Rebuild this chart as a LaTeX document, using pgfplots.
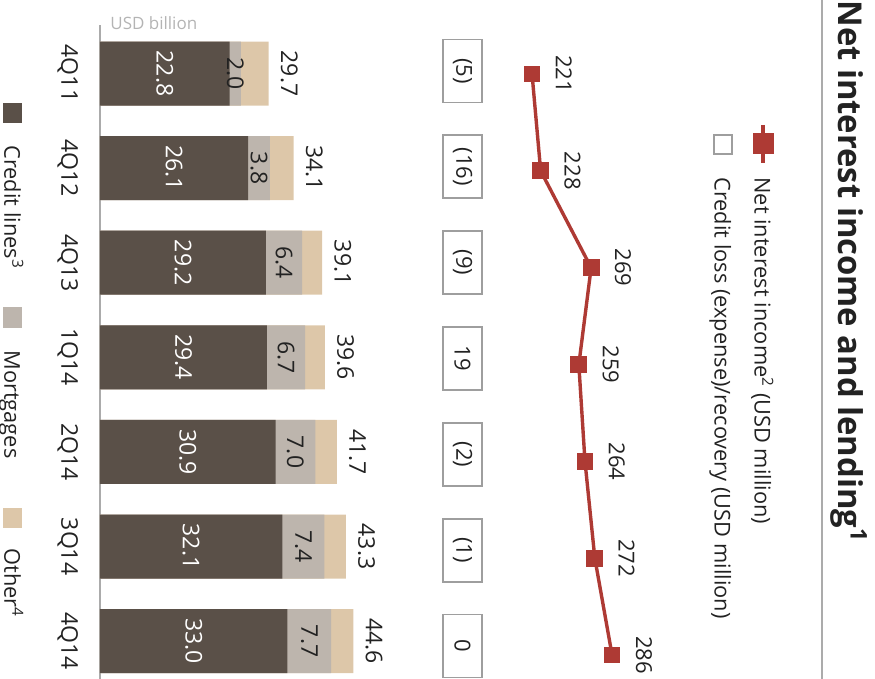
\documentclass[border=0pt]{standalone}
\usepackage{fontspec}
\setmainfont{Open Sans}
\usepackage{pgfplots}
\usepackage{pgfplotstable}
\pgfplotsset{compat=1.18}

\definecolor{ccredit}{HTML}{5A5048}
\definecolor{cmort}{HTML}{BDB5AD}
\definecolor{cother}{HTML}{DDC7A9}
\definecolor{cred}{HTML}{AE3A34}
\definecolor{cbox}{HTML}{9E9E9E}
\definecolor{ctext}{HTML}{222222}
\definecolor{cline}{HTML}{ABABAB}
\definecolor{clabel}{HTML}{B4B4B4}

\newcommand\fsz[1]{\fontsize{#1}{1.2\dimexpr#1pt\relax}\selectfont}

% quarter, zero column, credit lines, mortgages, other, total (USD bn),
% credit loss and net interest income (USD m)
\pgfplotstableread{
i z credit mort other total loss nii
0 0 22.8 2.0 4.9 29.7 (5)  221
1 0 26.1 3.8 4.2 34.1 (16) 228
2 0 29.2 6.4 3.5 39.1 (9)  269
3 0 29.4 6.7 3.5 39.6 19   259
4 0 30.9 7.0 3.8 41.7 (2)  264
5 0 32.1 7.4 3.8 43.3 (1)  272
6 0 33.0 7.7 3.9 44.6 0    286
}\data

\begin{document}
\begin{tikzpicture}

% title and rule
\node[rotate=-90, anchor=base west, inner sep=0pt, text=ctext,
      font=\bfseries\fsz{16.4}] at (419pt,339.5pt)
  {Net interest income and lending\textsuperscript{1}};
\draw[cline, line width=1pt] (411pt,0pt) -- (411pt,339.5pt);

% legend of the upper panel
\draw[cred, line width=1.7pt] (381.5pt,277pt) -- (381.5pt,258pt);
\fill[cred] (376.25pt,262.25pt) rectangle (386.75pt,272.75pt);
\node[rotate=-90, anchor=base west, inner sep=0pt, text=ctext, font=\fsz{10.9}]
  at (377.25pt,251pt) {Net interest income\textsuperscript{2} (USD million)};
\draw[cbox, line width=0.9pt, fill=white] (356.9pt,262.4pt) rectangle (366.1pt,272.1pt);
\node[rotate=-90, anchor=base west, inner sep=0pt, text=ctext, font=\fsz{10.9}]
  at (357.25pt,251pt) {Credit loss (expense)/recovery (USD million)};

% legend of the lending bars
\fill[ccredit] (1.5pt,278pt) rectangle (11pt,288pt);
\node[rotate=-90, anchor=base west, inner sep=0pt, text=ctext, font=\fsz{10.9}]
  at (2.25pt,267pt) {Credit lines\textsuperscript{3}};
\fill[cmort] (1.5pt,175.5pt) rectangle (11pt,186pt);
\node[rotate=-90, anchor=base west, inner sep=0pt, text=ctext, font=\fsz{10.9}]
  at (2.25pt,164.5pt) {Mortgages};
\fill[cother] (1.5pt,75.5pt) rectangle (11pt,85.5pt);
\node[rotate=-90, anchor=base west, inner sep=0pt, text=ctext, font=\fsz{10.9}]
  at (2.25pt,65.5pt) {Other\textsuperscript{4}};

% lending volumes
\begin{axis}[
  scale only axis, width=142pt, height=327pt,
  at={(50pt,0pt)}, anchor=south west,
  xmin=0, xmax=50, ymin=-0.5127, ymax=6.4, y dir=reverse,
  axis x line=none, axis y line*=left, xtick=\empty,
  y axis line style={cline, line width=0.75pt},
  ytick={0,...,6}, yticklabels={4Q11,4Q12,4Q13,1Q14,2Q14,3Q14,4Q14},
  major tick length=0pt,
  yticklabel style={xshift=-10.75pt, rotate=-90, anchor=north,
    inner sep=0pt, font=\fsz{11.5}, text=ctext},
  clip=false,
]
\addplot[xbar, bar width=32pt, bar shift=0pt, fill=cother, draw=none]
  table[x=total, y=i]{\data};
\addplot[xbar, bar width=32pt, bar shift=0pt, fill=cmort, draw=none]
  table[x expr=\thisrow{credit}+\thisrow{mort}, y=i]{\data};
\addplot[xbar, bar width=32pt, bar shift=0pt, fill=ccredit, draw=none]
  table[x=credit, y=i]{\data};

% segment values
\addplot[only marks, mark=none,
  point meta=explicit symbolic, nodes near coords,
  every node near coord/.append style={rotate=-90, anchor=center,
    inner sep=0pt, text=white, font=\fsz{11.5}}]
  table[x expr=\thisrow{credit}/2, y=i, meta=credit]{\data};
\addplot[only marks, mark=none,
  point meta=explicit symbolic, nodes near coords,
  every node near coord/.append style={rotate=-90, anchor=center,
    inner sep=0pt, text=ctext, font=\fsz{11.5}}]
  table[x expr=\thisrow{credit}+\thisrow{mort}/2, y=i, meta=mort]{\data};
\addplot[only marks, mark=none,
  point meta=explicit symbolic, nodes near coords,
  every node near coord/.append style={xshift=5.9pt, rotate=-90, anchor=south,
    inner sep=0pt, text=ctext, font=\fsz{11.5}}]
  table[x=total, y=i, meta=total]{\data};
\end{axis}

\node[anchor=west, inner sep=0pt, text=clabel, font=\fsz{8.5}] at (55pt,328pt) {USD billion};

% credit loss boxes
\begin{axis}[
  scale only axis, width=20pt, height=321.05pt,
  at={(221.25pt,6.9pt)}, anchor=south west,
  xmin=-1, xmax=1, ymin=-0.5, ymax=6.2, y dir=reverse,
  hide axis, clip=false,
]
\addplot[only marks, mark=none,
  point meta=explicit symbolic, nodes near coords,
  every node near coord/.append style={rotate=-90, anchor=center,
    draw=cbox, line width=0.9pt, fill=white, minimum width=31.5pt,
    minimum height=19.5pt, inner sep=0pt, text=ctext, font=\fsz{11}}]
  table[x=z, y=i, meta=loss]{\data};
\end{axis}

% net interest income
\begin{axis}[
  scale only axis, width=61.55pt, height=324.4pt,
  at={(253.1pt,2.3pt)}, anchor=south west,
  xmin=200, xmax=300, ymin=-0.5, ymax=6.2, y dir=reverse,
  hide axis, clip=false,
]
\addplot[cred, line width=1.7pt, mark=square*, mark size=3.9pt,
  mark options={solid, line width=0.6pt},
  point meta=explicit symbolic, nodes near coords,
  every node near coord/.append style={xshift=11.6pt, rotate=-90, anchor=south,
    inner sep=0pt, text=ctext, font=\fsz{11}}]
  table[x=nii, y=i, meta=nii]{\data};
\end{axis}

\pgfresetboundingbox
\path[use as bounding box] (0pt,0pt) rectangle (437.5pt,339.5pt);
\end{tikzpicture}
\end{document}
